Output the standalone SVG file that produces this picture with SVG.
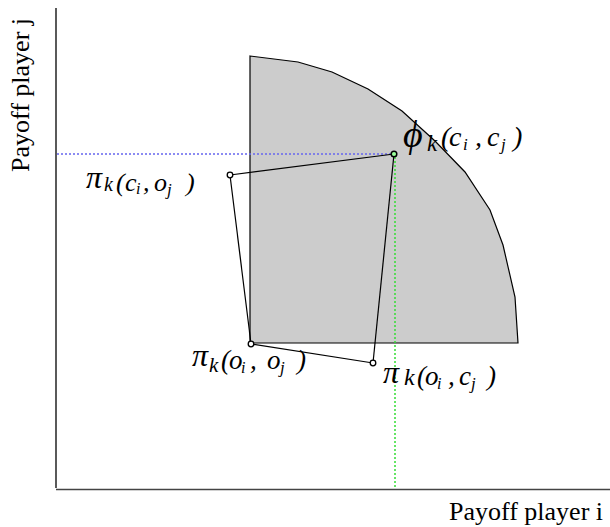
<svg xmlns="http://www.w3.org/2000/svg" width="610" height="527" viewBox="0 0 610 527">
<style>
.ax{font-family:"Liberation Serif",serif;font-size:26px;fill:#000}
.m{font-family:"Liberation Serif",serif;font-style:italic;fill:#000}
.pt{fill:#fff;stroke:#000;stroke-width:1.3}
.edge{stroke:#000;stroke-width:1.2;fill:none}
</style>
<rect width="610" height="527" fill="#fff"/>
<g id="region">
<polygon points="250,56 298,62 332,72 368,89 402,111 435,141 465,172 490,210 503,245 515,297 518,343 250,343" fill="#cccccc" stroke="#000" stroke-width="1.2"/>
</g>
<g id="axes">
<line x1="56" y1="8" x2="56" y2="488" stroke="#000" stroke-width="1.3"/>
<line x1="56" y1="489.5" x2="610" y2="489.5" stroke="#444" stroke-width="1.6"/>
<text class="ax" transform="translate(29,172) rotate(-90)">Payoff player j</text>
<text class="ax" x="449" y="520">Payoff player i</text>
</g>
<g id="connectors">
<line x1="57" y1="154" x2="391" y2="154" stroke="#6666ee" stroke-width="1.5" stroke-dasharray="2,2"/>
<line x1="395" y1="157" x2="395" y2="488" stroke="#33dd33" stroke-width="1.5" stroke-dasharray="2,2"/>
<line class="edge" x1="230" y1="175" x2="394" y2="154"/>
<line class="edge" x1="394" y1="154" x2="373" y2="363"/>
<line class="edge" x1="373" y1="363" x2="251" y2="344"/>
<line class="edge" x1="251" y1="344" x2="230" y2="175"/>
</g>
<g id="phi">
<circle cx="394" cy="154" r="2.8" fill="#9f9" stroke="#000" stroke-width="1.5"/>
<text class="m" x="403" y="147" font-size="38">ϕ</text>
<text class="m" x="427" y="151" font-size="23">k</text>
<text class="m" y="146" font-size="28"><tspan x="441">(</tspan><tspan x="449">c</tspan><tspan x="463" y="150" font-size="17">i</tspan><tspan x="475" y="146">,</tspan><tspan x="487">c</tspan><tspan x="501" y="150" font-size="17">j</tspan><tspan x="513" y="146">)</tspan></text>
</g>
<g id="pi-ci-oj">
<circle class="pt" cx="230" cy="175" r="2.8"/>
<text class="m" x="86" y="188" font-size="32">π</text>
<text class="m" x="104" y="191" font-size="20">k</text>
<text class="m" y="191" font-size="26"><tspan x="116">(</tspan><tspan x="125">c</tspan><tspan x="136" y="194" font-size="16">i</tspan><tspan x="143" y="191">,</tspan><tspan x="154">o</tspan><tspan x="167" y="195" font-size="17">j</tspan><tspan x="186" y="191">)</tspan></text>
</g>
<g id="pi-oi-oj">
<circle class="pt" cx="251" cy="344" r="2.8"/>
<text class="m" x="192" y="366" font-size="32">π</text>
<text class="m" x="209" y="372" font-size="21">k</text>
<text class="m" y="369" font-size="27"><tspan x="221">(</tspan><tspan x="229">o</tspan><tspan x="241" y="373" font-size="16">i</tspan><tspan x="250" y="369">,</tspan><tspan x="267">o</tspan><tspan x="280" y="373" font-size="17">j</tspan><tspan x="297" y="369">)</tspan></text>
</g>
<g id="pi-oi-cj">
<circle class="pt" cx="373" cy="363" r="2.8"/>
<text class="m" x="383" y="383" font-size="32">π</text>
<text class="m" y="385" font-size="27"><tspan x="404" font-size="24">k</tspan><tspan x="417">(</tspan><tspan x="425">o</tspan><tspan x="437" y="389" font-size="16">i</tspan><tspan x="448" y="385">,</tspan><tspan x="459">c</tspan><tspan x="471" y="389" font-size="17">j</tspan><tspan x="487" y="385">)</tspan></text>
</g>
</svg>
